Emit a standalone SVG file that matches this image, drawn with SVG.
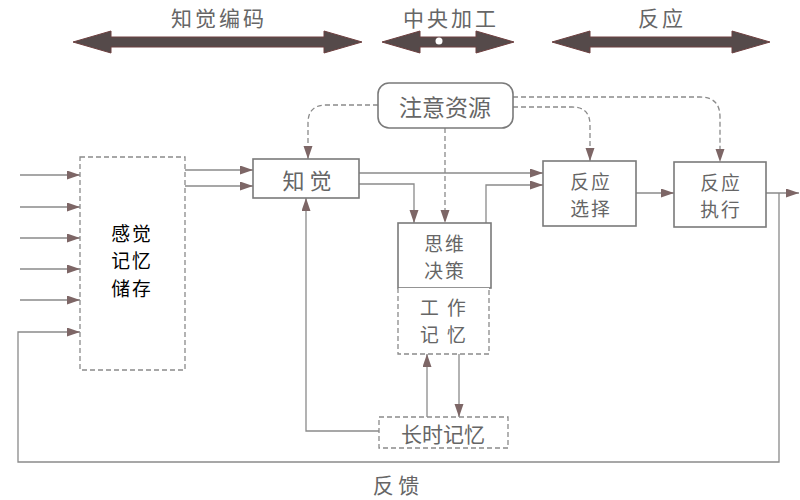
<svg xmlns="http://www.w3.org/2000/svg" width="800" height="500" viewBox="0 0 800 500">
<style>
  .box{fill:#fff;stroke:#7a7a7a;stroke-width:1.6}
  .dbox{fill:#fff;stroke:#8a8a8a;stroke-width:1.3;stroke-dasharray:5,3}
  .t{font-family:"Noto Sans CJK SC","Noto Sans",sans-serif;font-size:21px;fill:#666;text-anchor:middle;dominant-baseline:central}
  .m{font-family:"Noto Sans CJK SC","Noto Sans",sans-serif;font-size:18.8px;fill:#666;text-anchor:middle;dominant-baseline:central;letter-spacing:2px}
  .tb{font-family:"Noto Sans CJK SC","Noto Sans",sans-serif;font-size:18.8px;fill:#000;text-anchor:middle;dominant-baseline:central;letter-spacing:2px}
  .hd{font-family:"Noto Sans CJK SC","Noto Sans",sans-serif;font-size:21px;fill:#666;text-anchor:middle;dominant-baseline:central;letter-spacing:3px}
  .c{fill:none;stroke:#8a8a8a;stroke-width:1.3}
  .cd{fill:none;stroke:#8a8a8a;stroke-width:1.3;stroke-dasharray:5,3}
  .big{fill:#554a4a;stroke:#6e4040;stroke-width:1}
</style>
<defs>
  <marker id="ah" markerUnits="userSpaceOnUse" markerWidth="14" markerHeight="10" refX="13" refY="4.5" orient="auto">
    <path d="M0,0 L13,4.5 L0,9 z" fill="#7d6666"/>
  </marker>
</defs>

<g id="header">
  <polygon class="big" points="73,42 111,31 111,37 324,37 324,31 362,42 324,53 324,47 111,47 111,53"/>
  <polygon class="big" points="382,42 420,31 420,37 476,37 476,31 514,42 476,53 476,47 420,47 420,53"/>
  <circle cx="439" cy="41" r="3.5" fill="#fff"/>
  <polygon class="big" points="552,42 590,31 590,37 732,37 732,31 770,42 732,53 732,47 590,47 590,53"/>
  <text class="hd" x="219" y="17">知觉编码</text>
  <text class="hd" x="451" y="17">中央加工</text>
  <text class="hd" x="662" y="17">反应</text>
</g>

<g id="connectors">
  <path class="c" d="M20,175 H80" marker-end="url(#ah)"/>
  <path class="c" d="M20,207 H80" marker-end="url(#ah)"/>
  <path class="c" d="M20,238 H80" marker-end="url(#ah)"/>
  <path class="c" d="M20,269 H80" marker-end="url(#ah)"/>
  <path class="c" d="M20,300 H80" marker-end="url(#ah)"/>
  <path class="c" d="M779,193 V462 H18 V332 H80" marker-end="url(#ah)"/>
  <path class="c" d="M766,193 H799" marker-end="url(#ah)"/>
  <path class="c" d="M185,170 H253" marker-end="url(#ah)"/>
  <path class="c" d="M185,186 H253" marker-end="url(#ah)"/>
  <path class="c" d="M359,173 H543" marker-end="url(#ah)"/>
  <path class="c" d="M359,184 H414 V223" marker-end="url(#ah)"/>
  <path class="c" d="M486,223 V185 H543" marker-end="url(#ah)"/>
  <path class="c" d="M636,193 H674" marker-end="url(#ah)"/>
  <path class="c" d="M379,431 H306 V198" marker-end="url(#ah)"/>
  <path class="c" d="M427,417 V354" marker-end="url(#ah)"/>
  <path class="c" d="M459,354 V417" marker-end="url(#ah)"/>
  <path class="cd" d="M378,105 H326 Q308,105 308,123 V159" marker-end="url(#ah)"/>
  <path class="cd" d="M445,128 V223" marker-end="url(#ah)"/>
  <path class="cd" d="M513,107 H572 Q590,107 590,125 V161" marker-end="url(#ah)"/>
  <path class="cd" d="M513,97 H700 Q720,97 720,117 V162" marker-end="url(#ah)"/>
</g>

<g id="sensory">
  <rect class="dbox" x="80" y="157" width="105" height="213"/>
  <text class="tb" x="132" y="232">感觉</text>
  <text class="tb" x="132" y="259.5">记忆</text>
  <text class="tb" x="132" y="287">储存</text>
</g>

<g id="perception">
  <rect class="box" x="253" y="159" width="106" height="39"/>
  <text class="t" x="307" y="179" style="font-size:22px">知 觉</text>
</g>

<g id="attention">
  <rect class="box" x="378" y="83" width="135" height="45" rx="11"/>
  <text class="t" x="445" y="106" style="font-size:23px">注意资源</text>
</g>

<g id="decision">
  <rect class="box" x="398" y="223" width="93" height="65"/>
  <text class="m" x="445" y="242">思维</text>
  <text class="m" x="445" y="269.5">决策</text>
</g>

<g id="working-memory">
  <path class="dbox" d="M398,288 V354 H489 V288"/>
  <text class="m" x="444" y="306">工 作</text>
  <text class="m" x="444" y="333.5">记 忆</text>
</g>

<g id="long-term-memory">
  <rect class="dbox" x="379" y="417" width="129" height="31"/>
  <text class="t" x="443" y="433">长时记忆</text>
</g>

<g id="response-selection">
  <rect class="box" x="543" y="161" width="93" height="65"/>
  <text class="m" x="591" y="180">反应</text>
  <text class="m" x="591" y="207.5">选择</text>
</g>

<g id="response-execution">
  <rect class="box" x="674" y="162" width="92" height="65"/>
  <text class="m" x="721" y="181">反应</text>
  <text class="m" x="721" y="208.5">执行</text>
</g>

<g id="feedback-label">
  <text class="t" x="396" y="484">反 馈</text>
</g>
</svg>
